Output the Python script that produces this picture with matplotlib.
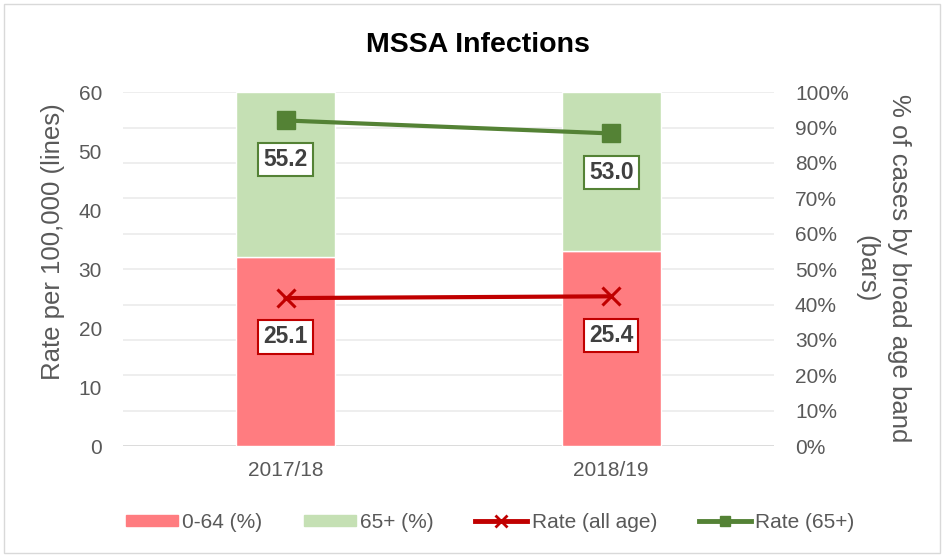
import matplotlib.pyplot as plt
from matplotlib.lines import Line2D
from matplotlib.patches import Patch

plt.rcParams['font.family'] = ['Liberation Sans', 'DejaVu Sans']

# Datos
years = ["2017/18", "2018/19"]
pct_0_64 = [53.4, 55.1]
pct_65 = [46.6, 44.9]
rate_all = [25.1, 25.4]
rate_65 = [55.2, 53.0]

red_bar, green_bar = "#FF7C80", "#C5E0B4"
red_line, green_line = "#C00000", "#548235"
gray = "#595959"

fig = plt.figure(figsize=(9.44, 5.55), dpi=100)
fig.patches.append(plt.Rectangle((0.004, 0.004), 0.992, 0.988, transform=fig.transFigure,
                                 fill=False, edgecolor="#D9D9D9", linewidth=1))
ax = fig.add_axes([0.130, 0.196, 0.690, 0.638])
ax2 = ax.twinx()

x = list(range(len(years)))

# barras en eje derecho (porcentaje)
ax2.bar(x, pct_0_64, width=0.305, color=red_bar, edgecolor="white", linewidth=1, zorder=2)
ax2.bar(x, pct_65, width=0.305, bottom=pct_0_64, color=green_bar, edgecolor="white", linewidth=1, zorder=2)
ax2.axhline(0, color="#D9D9D9", linewidth=1.2, zorder=1)
ax2.set_ylim(0, 100)
ax2.set_yticks(range(0, 101, 10))
ax2.set_yticklabels([f"{v}%" for v in range(0, 101, 10)])

# lineas en eje izquierdo, dibujadas encima
ax.set_zorder(ax2.get_zorder() + 1)
ax.patch.set_visible(False)
ax.plot(x, rate_all, color=red_line, linewidth=3, marker="x", markersize=13,
        markeredgewidth=2.2, zorder=3)
ax.plot(x, rate_65, color=green_line, linewidth=3, marker="s", markersize=13, zorder=3)

for xi, v in zip(x, rate_all):
    ax.annotate(f"{v:.1f}", (xi, v), xytext=(0, -28), textcoords="offset points",
                ha="center", va="center", fontsize=16.5, fontweight="bold", color="#404040",
                bbox=dict(boxstyle="square,pad=0.22", fc="white", ec=red_line, lw=1.5))
for xi, v in zip(x, rate_65):
    ax.annotate(f"{v:.1f}", (xi, v), xytext=(0, -28), textcoords="offset points",
                ha="center", va="center", fontsize=16.5, fontweight="bold", color="#404040",
                bbox=dict(boxstyle="square,pad=0.22", fc="white", ec=green_line, lw=1.5))

ax.set_ylim(0, 60)
ax.set_yticks(range(0, 61, 10))
ax.set_xlim(-0.5, 1.5)
ax.set_xticks(x)
ax.set_xticklabels(years)
ax2.yaxis.grid(True, color="#EBEBEB", linewidth=1.2)
ax2.set_axisbelow(True)

for a in (ax, ax2):
    for s in a.spines.values():
        s.set_visible(False)
    a.tick_params(length=0, labelsize=15, labelcolor=gray)
ax.tick_params(axis="y", pad=15)
ax.tick_params(axis="x", pad=11)
ax2.tick_params(axis="y", pad=15)

fig.text(0.056, 0.564, "Rate per 100,000 (lines)", rotation=90, ha="center", va="center",
         fontsize=18.5, color=gray)
fig.text(0.935, 0.516, "% of cases by broad age band\n(bars)", rotation=-90, ha="center",
         va="center", fontsize=18.5, color=gray, linespacing=1.45, multialignment="center")

fig.text(0.506, 0.919, "MSSA Infections", ha="center", va="center", fontsize=20.5,
         fontweight="bold", color="black")

handles = [Patch(color=red_bar), Patch(color=green_bar),
           Line2D([], [], color=red_line, lw=3.5, marker="x", markersize=9, markeredgewidth=2),
           Line2D([], [], color=green_line, lw=3.5, marker="s", markersize=7)]
labels = ["0-64 (%)", "65+ (%)", "Rate (all age)", "Rate (65+)"]
fig.legend(handles, labels, loc="center", bbox_to_anchor=(0.519, 0.059), ncol=4, frameon=False,
           fontsize=15, labelcolor=gray, handlelength=2.5, handletextpad=0.2, columnspacing=2.0,
           handleheight=0.45)

fig.savefig("out.png", dpi=100)
